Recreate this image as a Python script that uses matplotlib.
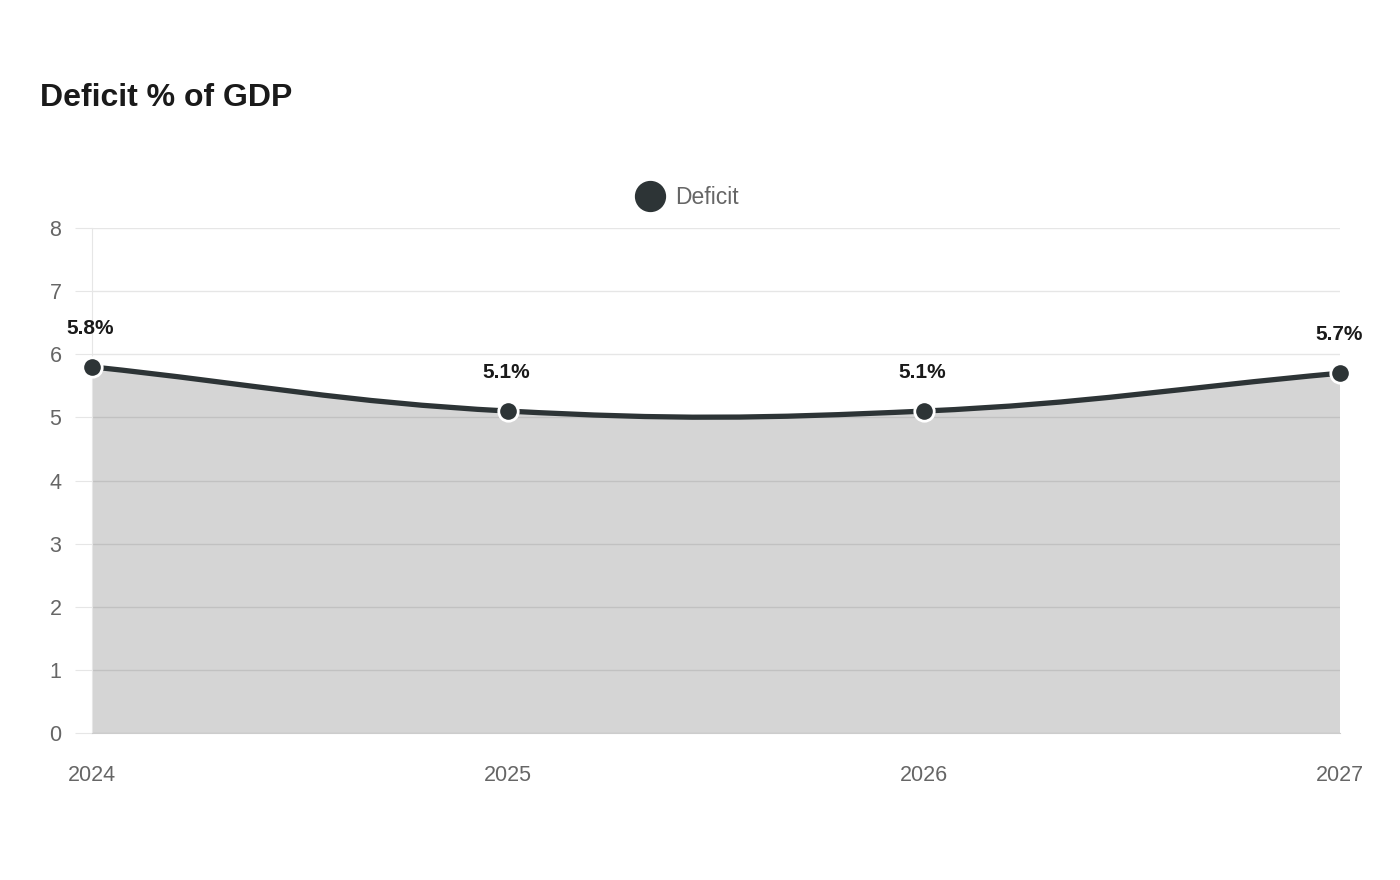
import matplotlib.pyplot as plt
import numpy as np
from matplotlib.path import Path
from matplotlib.patches import PathPatch

plt.rcParams['font.family'] = ['Liberation Sans', 'DejaVu Sans']

# dados
anos = ['2024', '2025', '2026', '2027']
deficit = [5.8, 5.1, 5.1, 5.7]
rotulos = ['5.8%', '5.1%', '5.1%', '5.7%']
y_ticks = [0, 1, 2, 3, 4, 5, 6, 7, 8]

cor_linha = '#2d3436'
cor_area = '#2d2d2d'
cor_grid = '#e6e6e6'
cor_texto = '#666666'

fig = plt.figure(figsize=(14, 8.8), dpi=100)
ax = fig.add_axes([92 / 1400, 1 - 733 / 880, (1340 - 92) / 1400, (733 - 228) / 880])

x = np.arange(len(anos))
ax.set_xlim(0, len(anos) - 1)
ax.set_ylim(0, 8)

# curva bezier estilo chart.js (tension 0.4), calculada em pixels
fig.canvas.draw()
pts = ax.transData.transform(np.column_stack([x, deficit]))
t = 0.4
cps = []
for i in range(len(pts)):
    prev = pts[max(i - 1, 0)]
    cur = pts[i]
    nxt = pts[min(i + 1, len(pts) - 1)]
    d01 = np.hypot(*(cur - prev))
    d12 = np.hypot(*(nxt - cur))
    s01 = d01 / (d01 + d12) if d01 + d12 else 0
    s12 = d12 / (d01 + d12) if d01 + d12 else 0
    cps.append((cur - t * s01 * (nxt - prev), cur + t * s12 * (nxt - prev)))

inv = ax.transData.inverted()
verts = [pts[0]]
codes = [Path.MOVETO]
for i in range(len(pts) - 1):
    verts += [cps[i][1], cps[i + 1][0], pts[i + 1]]
    codes += [Path.CURVE4] * 3
verts = inv.transform(np.array(verts))

linha = Path(verts, codes)
area = Path(np.vstack([verts, [[x[-1], 0], [x[0], 0], verts[0]]]),
            codes + [Path.LINETO, Path.LINETO, Path.CLOSEPOLY])

# grade
for v in y_ticks:
    ax.axhline(v, color=cor_grid, lw=1, zorder=1)
ax.add_patch(PathPatch(area, facecolor=cor_area, alpha=0.2, edgecolor='none', zorder=2))
ax.add_patch(PathPatch(linha, facecolor='none', edgecolor=cor_linha, lw=3.8,
                       capstyle='round', joinstyle='round', zorder=3))
ax.plot(x, deficit, 'o', ms=14, color=cor_linha, mec='white', mew=2, zorder=4, clip_on=False)

for xi, yi, r in zip(x, deficit, rotulos):
    ax.annotate(r, (xi, yi), xytext=(-1, 27.5), textcoords='offset points',
                ha='center', va='center', fontsize=15, fontweight='bold', color='#1a1a1a')

for s in ['top', 'right']:
    ax.spines[s].set_visible(False)
ax.spines['left'].set_color(cor_grid)
ax.spines['bottom'].set_color('#cccccc')

ax.set_yticks(y_ticks)
ax.set_xticks(x)
ax.set_xticklabels(anos)
ax.tick_params(axis='y', length=12, color=cor_grid, pad=10, labelsize=15.5, labelcolor=cor_texto)
ax.tick_params(axis='x', length=0, pad=23, labelsize=15.5, labelcolor=cor_texto)

# legenda
fig.lines.append(plt.Line2D([650 / 1400], [1 - 196 / 880], marker='o', ms=21.5,
                            color=cor_linha, transform=fig.transFigure))
fig.text(675 / 1400, 1 - 198 / 880, 'Deficit', ha='left', va='center', fontsize=16.5, color=cor_texto)

fig.text(40 / 1400, 1 - 98 / 880, 'Deficit % of GDP', ha='left', va='center',
         fontsize=23, fontweight='bold', color='#1a1a1a')

fig.savefig('out.png', dpi=100, facecolor='white')
